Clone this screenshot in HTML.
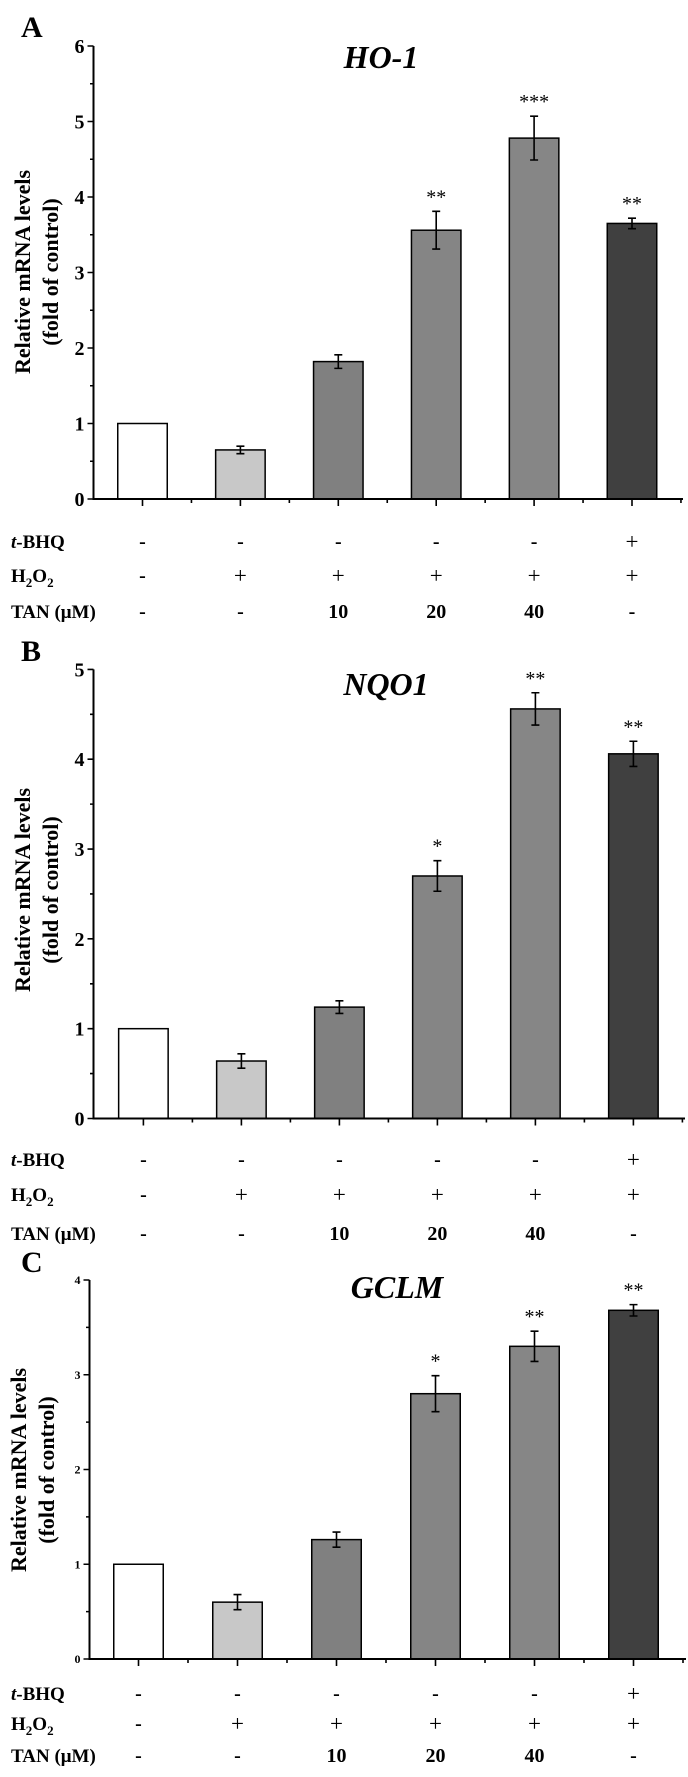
<!DOCTYPE html>
<html><head><meta charset="utf-8"><style>
html,body{margin:0;padding:0;background:#fff;}
svg{display:block;font-family:"Liberation Serif",serif;font-weight:bold;}
</style></head><body>
<svg id="fig" width="688" height="1777" viewBox="0 0 688 1777"></svg>
<script>
const rowLabels = ["t-BHQ","H2O2","TAN (μM)"];
const tbhqRow = ["-","-","-","-","-","+"];
const h2o2Row = ["-","+","+","+","+","+"];
const tanRow = ["-","-","10","20","40","-"];
const fills = ["#ffffff","#c8c8c8","#808080","#858585","#868686","#404040"];

const hoValues = [1, 0.65, 1.82, 3.56, 4.78, 3.65];
const hoErrors = [0, 0.05, 0.09, 0.25, 0.29, 0.07];
const hoStars = ["","","","**","***","**"];
const hoTicks = [0,1,2,3,4,5,6];

const nqValues = [1, 0.64, 1.24, 2.70, 4.56, 4.06];
const nqErrors = [0, 0.08, 0.07, 0.17, 0.18, 0.14];
const nqStars = ["","","","*","**","**"];
const nqTicks = [0,1,2,3,4,5];

const gcValues = [1, 0.60, 1.26, 2.80, 3.30, 3.68];
const gcErrors = [0, 0.08, 0.08, 0.19, 0.16, 0.06];
const gcStars = ["","","","*","**","**"];
const gcTicks = [0,1,2,3,4];

const NS="http://www.w3.org/2000/svg";
const svg=document.getElementById('fig');
function mk(tag,attrs,parent){const e=document.createElementNS(NS,tag);for(const k in attrs)e.setAttribute(k,attrs[k]);(parent||svg).appendChild(e);return e;}

function panel(p){
  const g=mk('g',{});
  
  
  const ymax=p.ticks[p.ticks.length-1];
  const yS=v=>p.y0-(p.y0-p.yTop)*v/ymax;
  const xS=i=>p.x0c+i*p.step;
  const L=mk('text',{x:p.letterX,y:p.letterY,'font-size':30},g);L.textContent=p.id;
  
  
  const T=mk('text',{x:p.titleX,y:p.titleY,'font-size':32,'font-style':'italic','text-anchor':'middle'},g);T.textContent=p.title;
  
  
  const yt=mk('text',{transform:`translate(${p.ylabX},${p.ylabY}) rotate(-90)`,'font-size':22,'text-anchor':'middle'},g);
  
  
  const t1=mk('tspan',{x:0,dy:0},yt);t1.textContent='Relative mRNA levels';
  const t2=mk('tspan',{x:0,dy:28},yt);t2.textContent='(fold of control)';
  p.values.forEach((v,i)=>{
    const cx=xS(i),w=49.5;
    const r=mk('rect',{x:cx-w/2,y:yS(v),width:w,height:p.y0-yS(v),fill:fills[i],stroke:'#000','stroke-width':1.5},g);
    
    
    const e=p.errors[i];
    if(e>0){
      const eb=mk('path',{d:`M${cx},${yS(v+e)}V${yS(v-e)}M${cx-4},${yS(v+e)}h8M${cx-4},${yS(v-e)}h8`,stroke:'#000','stroke-width':1.6,fill:'none'},g);
      
      
    }
    if(p.stars[i]){
      const s=mk('text',{x:cx,y:yS(v+e)-8,'font-size':20,'text-anchor':'middle','font-weight':'normal'},g);s.textContent=p.stars[i];
      
      
    }
  });
  const ax=mk('path',{d:`M${p.x0},${p.yTop}V${p.y0}H${p.xEnd}`,stroke:'#000','stroke-width':2,fill:'none'},g);
  
  
  let d='';
  p.ticks.forEach((t,k)=>{
    d+=`M${p.x0-6},${yS(t)}H${p.x0}`;
    if(k<p.ticks.length-1)d+=`M${p.x0-3.5},${yS(t+0.5)}H${p.x0}`;
    const tl=mk('text',{x:p.x0-9,y:yS(t)+p.tfs*0.35,'font-size':p.tfs,'text-anchor':'end'},g);tl.textContent=t;
    
    
  });
  p.values.forEach((v,i)=>{d+=`M${xS(i)},${p.y0}v7`; d+=`M${xS(i)+p.step/2},${p.y0}v4`;});
  const tk=mk('path',{d:d,stroke:'#000','stroke-width':1.6,fill:'none'},g);
  
  
  const rows=[tbhqRow,h2o2Row,tanRow];
  rows.forEach((row,r)=>{
    const y=p.rowY[r];
    const lab=mk('text',{x:11,y:y,'font-size':19},g);
    
    
    if(r===0){lab.innerHTML='<tspan font-style="italic">t</tspan>-BHQ';}
    else if(r===1){lab.innerHTML='H<tspan font-size="13" dy="5">2</tspan><tspan dy="-5">O</tspan><tspan font-size="13" dy="5">2</tspan>';}
    else lab.textContent=rowLabels[2];
    row.forEach((c,i)=>{
      const isPlus=c==='+', isDash=c==='-';
      const t=mk('text',{x:xS(i),y:isPlus?y+1:y,'font-size':isPlus?23:20,'text-anchor':'middle','font-weight':isPlus?'normal':'bold'},g);t.textContent=c;
      
      
    });
  });
}

panel({id:'A',title:'HO-1',values:hoValues,errors:hoErrors,stars:hoStars,ticks:hoTicks,
  x0:93.5,xEnd:683,y0:499,yTop:46,x0c:142.5,step:97.9,tfs:20,
  letterX:21,letterY:37,titleX:381,titleY:68,ylabX:30,ylabY:272,rowY:[548,582,618]});
panel({id:'B',title:'NQO1',values:nqValues,errors:nqErrors,stars:nqStars,ticks:nqTicks,
  x0:93.5,xEnd:685,y0:1118.5,yTop:669.4,x0c:143.4,step:98,tfs:20,
  letterX:21,letterY:661,titleX:386,titleY:695,ylabX:30,ylabY:890,rowY:[1166,1201,1240]});
panel({id:'C',title:'GCLM',values:gcValues,errors:gcErrors,stars:gcStars,ticks:gcTicks,
  x0:89.5,xEnd:686,y0:1659,yTop:1280,x0c:138.5,step:99,tfs:12,
  letterX:21,letterY:1272,titleX:397,titleY:1298,ylabX:26,ylabY:1470,rowY:[1700,1730,1762]});
</script>
</body></html>
